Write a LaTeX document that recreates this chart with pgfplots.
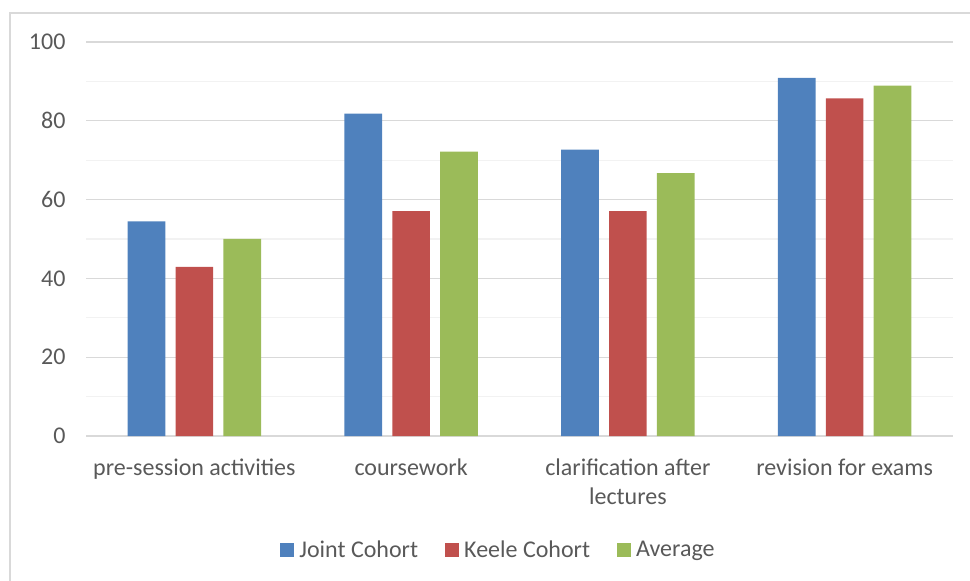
\documentclass[border=0pt]{standalone}
\usepackage{pgfplots}
\pgfplotsset{compat=1.18}
\usepackage{fontspec}
\setmainfont{Carlito}
\definecolor{cblue}{HTML}{4F81BD}
\definecolor{cred}{HTML}{C0504D}
\definecolor{cgreen}{HTML}{9BBB59}
\definecolor{ctext}{HTML}{595959}
\definecolor{cmajor}{HTML}{D9D9D9}
\definecolor{cminor}{HTML}{F2F2F2}
\newcommand{\cf}{\fontsize{24bp}{29bp}\selectfont}
\begin{document}
\begin{tikzpicture}
\useasboundingbox (0bp,0bp) rectangle (970bp,581bp);
\draw[cmajor, line width=1.3bp] (10bp,-5bp) -- (10bp,568bp) -- (975bp,568bp);
\begin{axis}[
  at={(86bp,145bp)}, anchor=south west,
  scale only axis, width=867bp, height=394bp,
  xmin=-0.5, xmax=3.5, ymin=0, ymax=100,
  ybar, bar width=37.7bp,
  xtick={0,1,2,3},
  xticklabels={pre-session activities, coursework, {clarification after\\lectures}, revision for exams},
  ytick={0,20,40,60,80,100},
  minor ytick={10,30,50,70,90},
  ymajorgrids, yminorgrids,
  major grid style={draw=cmajor, line width=1.3bp},
  minor grid style={draw=cminor, line width=1.3bp},
  axis x line*=bottom, axis y line*=left,
  y axis line style={draw=none},
  x axis line style={draw=cmajor, line width=1.3bp},
  major tick length=0pt, minor tick length=0pt,
  tick style={draw=none},
  /pgf/number format/assume math mode=true,
  ticklabel style={font=\cf, text=ctext},
  xticklabel style={align=center, yshift=-19bp},
  yticklabel style={xshift=-17bp},
  legend columns=3,
  legend style={at={(0.4775,-0.289)}, anchor=center, draw=none, fill=none,
    font=\cf, text=ctext, nodes={inner xsep=5bp},
    /tikz/every even column/.append style={column sep=22bp}},
  legend image code/.code={\fill[#1, draw=none] (0bp,-7bp) rectangle (14bp,7bp);},
  clip=false,
]
\addplot[fill=cblue, draw=none, bar shift=-47.8bp] coordinates {(0,54.5) (1,81.8) (2,72.7) (3,90.9)};
\addplot[fill=cred, draw=none, bar shift=0bp] coordinates {(0,42.9) (1,57.1) (2,57.1) (3,85.7)};
\addplot[fill=cgreen, draw=none, bar shift=47.8bp] coordinates {(0,50) (1,72.2) (2,66.7) (3,88.9)};
\legend{Joint Cohort, Keele Cohort, Average}
\end{axis}
\end{tikzpicture}
\end{document}
